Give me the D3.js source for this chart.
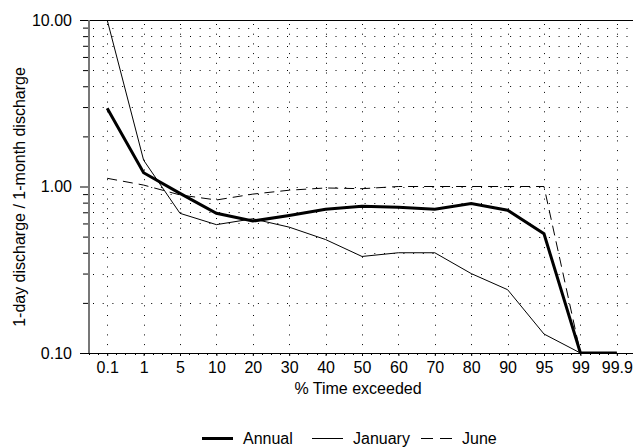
<!DOCTYPE html>
<html>
<head>
<meta charset="utf-8">
<script src="https://cdn.jsdelivr.net/npm/d3@7"></script>
<style>
  body { margin: 0; background: #fff; }
  svg { display: block; font-family: "Liberation Sans", Arial, sans-serif; }
</style>
</head>
<body>
<svg id="chart" width="633" height="448"></svg>
<script>
// % time exceeded categories
const categories = ['0.1', '1', '5', '10', '20', '30', '40', '50', '60', '70', '80', '90', '95', '99', '99.9'];

// ratio of 1-day discharge to 1-month discharge
const annual  = [2.95, 1.21, 0.91, 0.69, 0.62, 0.67, 0.73, 0.76, 0.75, 0.73, 0.79, 0.72, 0.52, 0.10, 0.10];
const january = [10.0, 1.44, 0.69, 0.59, 0.64, 0.57, 0.48, 0.38, 0.40, 0.40, 0.30, 0.24, 0.13, 0.10, 0.10];
const june    = [1.12, 1.02, 0.89, 0.83, 0.90, 0.95, 0.98, 0.97, 1.00, 1.00, 1.00, 1.00, 1.00, 0.10, 0.10];

const majorTicks = [0.1, 1, 10];
const minorTicks = [0.2, 0.3, 0.4, 0.5, 0.6, 0.7, 0.8, 0.9, 2, 3, 4, 5, 6, 7, 8, 9];

const series = [
    { name: 'Annual',  values: annual,  width: 3,   dash: null },
    { name: 'January', values: january, width: 1,   dash: null },
    { name: 'June',    values: june,    width: 1,   dash: '10,6' }
];

const plotLeft = 89, plotRight = 635, plotTop = 20, plotBottom = 353;
const fontSize = 16;

const svg = d3.select('#chart');

const x = d3.scalePoint()
    .domain(categories)
    .range([plotLeft, plotRight])
    .padding(0.5);

const y = d3.scaleLog()
    .domain([0.1, 10])
    .range([plotBottom, plotTop]);

// dotted grid
const grid = svg.append('g')
    .attr('stroke', '#000')
    .attr('stroke-width', 1)
    .attr('stroke-dasharray', '1,8.7');

grid.selectAll('.hgrid')
    .data(minorTicks.concat([1]))
    .enter().append('line')
    .attr('x1', plotLeft + 4)
    .attr('x2', plotRight)
    .attr('y1', d => Math.round(y(d)) + 0.5)
    .attr('y2', d => Math.round(y(d)) + 0.5);

grid.selectAll('.vgrid')
    .data(categories)
    .enter().append('line')
    .attr('x1', d => Math.round(x(d)) + 0.5)
    .attr('x2', d => Math.round(x(d)) + 0.5)
    .attr('y1', plotTop + 4)
    .attr('y2', plotBottom);

// y axis
const yAxisMinor = d3.axisLeft(y)
    .tickValues(minorTicks)
    .tickSize(6)
    .tickFormat('');

const yAxisMajor = d3.axisLeft(y)
    .tickValues(majorTicks)
    .tickSize(9)
    .tickPadding(8)
    .tickFormat(d3.format('.2f'));

svg.append('g')
    .attr('transform', `translate(${plotLeft},0)`)
    .call(yAxisMinor)
    .call(g => g.select('.domain').remove());

const yg = svg.append('g')
    .attr('transform', `translate(${plotLeft},0)`)
    .call(yAxisMajor)
    .call(g => g.select('.domain').remove());

yg.selectAll('text')
    .attr('font-size', fontSize)
    .attr('fill', '#000')
    .attr('font-family', '"Liberation Sans", Arial, sans-serif');

// x axis
const xAxis = d3.axisBottom(x)
    .tickSize(3)
    .tickPadding(6)
    .tickSizeOuter(0);

const xg = svg.append('g')
    .attr('transform', `translate(0,${plotBottom})`)
    .call(xAxis)
    .call(g => g.select('.domain').remove());

xg.selectAll('text')
    .attr('font-size', fontSize)
    .attr('fill', '#000')
    .attr('font-family', '"Liberation Sans", Arial, sans-serif');

// minor x ticks at quarter steps
const step = x.step();
const xMinor = d3.range(plotLeft, plotRight, step / 4);
svg.append('g').selectAll('line')
    .data(xMinor)
    .enter().append('line')
    .attr('x1', d => Math.round(d) + 0.5)
    .attr('x2', d => Math.round(d) + 0.5)
    .attr('y1', plotBottom)
    .attr('y2', plotBottom + 2)
    .attr('stroke', '#000');

// frame lines
svg.append('line')
    .attr('x1', plotLeft - 9).attr('x2', plotRight)
    .attr('y1', plotTop + 0.5).attr('y2', plotTop + 0.5)
    .attr('stroke', '#000').attr('stroke-width', 1.2);

svg.append('line')
    .attr('x1', plotLeft - 9).attr('x2', plotRight)
    .attr('y1', plotBottom + 0.5).attr('y2', plotBottom + 0.5)
    .attr('stroke', '#000').attr('stroke-width', 1.2);

svg.append('line')
    .attr('x1', plotLeft).attr('x2', plotLeft)
    .attr('y1', plotTop).attr('y2', plotBottom)
    .attr('stroke', '#777').attr('stroke-width', 2);

// series lines
svg.append('clipPath').attr('id', 'plot-clip')
    .append('rect')
    .attr('x', plotLeft).attr('y', plotTop - 1)
    .attr('width', plotRight - plotLeft).attr('height', plotBottom - plotTop + 2);

const line = d3.line()
    .x((d, i) => x(categories[i]))
    .y(d => y(d));

svg.append('g')
    .attr('clip-path', 'url(#plot-clip)')
    .selectAll('path')
    .data(series)
    .enter().append('path')
    .attr('d', d => line(d.values))
    .attr('fill', 'none')
    .attr('stroke', '#000')
    .attr('stroke-width', d => d.width)
    .attr('stroke-dasharray', d => d.dash);

// axis titles
svg.append('text')
    .attr('x', 358)
    .attr('y', 394)
    .attr('text-anchor', 'middle')
    .attr('font-size', fontSize)
    .text('% Time exceeded');

svg.append('text')
    .attr('transform', 'translate(25,197) rotate(-90)')
    .attr('text-anchor', 'middle')
    .attr('font-size', fontSize)
    .text('1-day discharge / 1-month discharge');

// legend
const legendX = [202, 312, 421];
const legend = svg.append('g');
series.forEach((s, i) => {
    legend.append('line')
        .attr('x1', legendX[i]).attr('x2', legendX[i] + 31)
        .attr('y1', 438.5).attr('y2', 438.5)
        .attr('stroke', '#000')
        .attr('stroke-width', s.width)
        .attr('stroke-dasharray', s.dash ? '12,7' : null);
    legend.append('text')
        .attr('x', legendX[i] + 41)
        .attr('y', 444)
        .attr('font-size', fontSize)
        .text(s.name);
});
</script>
</body>
</html>
